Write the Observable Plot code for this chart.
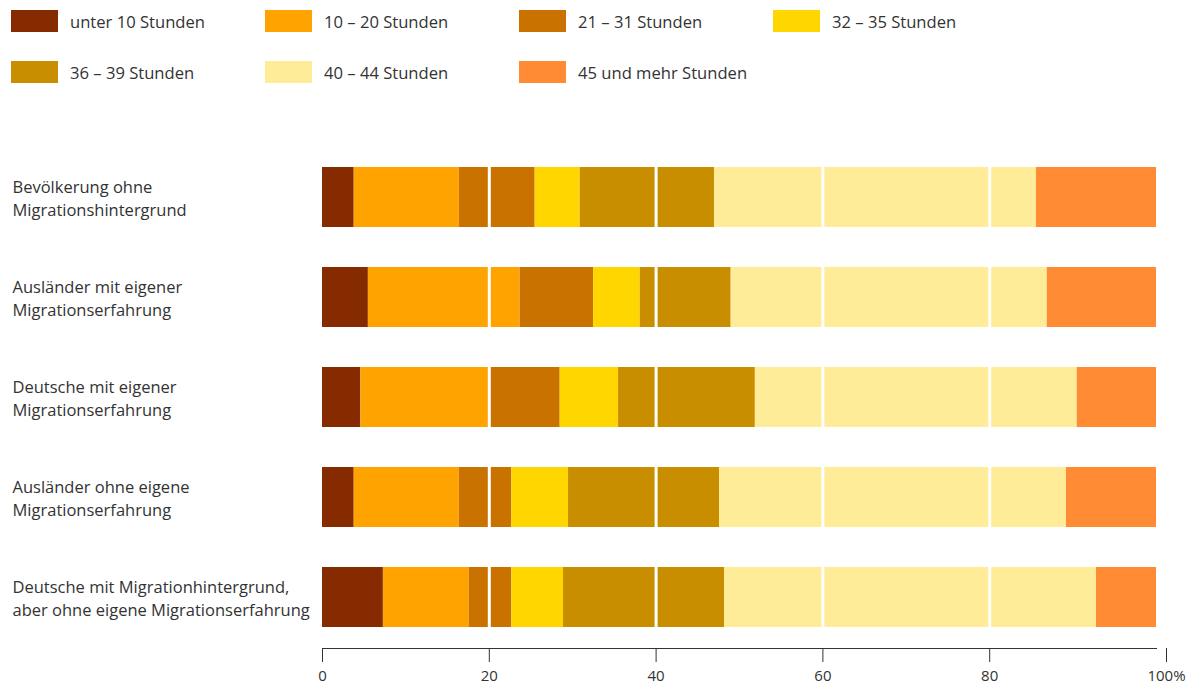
<!DOCTYPE html>
<html>
<head>
<meta charset="utf-8">
<script src="https://cdn.jsdelivr.net/npm/d3@7"></script>
<script src="https://cdn.jsdelivr.net/npm/@observablehq/plot@0.6"></script>
<style>
  html, body { margin: 0; padding: 0; background: #fff; }
  body { width: 1198px; height: 688px; overflow: hidden; font-family: "Open Sans", sans-serif; color: #333; }
  #legend { position: relative; height: 130px; }
  .item { position: absolute; display: flex; align-items: center; height: 22px; }
  .sw { width: 47px; height: 22px; margin-right: 12px; }
  .lb { font-size: 16.6px; white-space: nowrap; }
  #chart svg { display: block; }
</style>
</head>
<body>
<div id="legend"></div>
<div id="chart"></div>
<script>
const groups = [
  "Bevölkerung ohne\nMigrationshintergrund",
  "Ausländer mit eigener\nMigrationserfahrung",
  "Deutsche mit eigener\nMigrationserfahrung",
  "Ausländer ohne eigene\nMigrationserfahrung",
  "Deutsche mit Migrationhintergrund,\naber ohne eigene Migrationserfahrung"
];
const classes = [
  "unter 10 Stunden",
  "10 – 20 Stunden",
  "21 – 31 Stunden",
  "32 – 35 Stunden",
  "36 – 39 Stunden",
  "40 – 44 Stunden",
  "45 und mehr Stunden"
];
const colors = ["#862a00", "#ffa300", "#c97200", "#ffd600", "#c98d00", "#ffec99", "#ff8c34"];

// shares (%) per group, in class order
const under10   = [3.8, 5.5, 4.6, 3.8, 7.3];
const h10to20   = [12.6, 18.2, 15.3, 12.6, 10.3];
const h21to31   = [9.1, 8.8, 8.6, 6.3, 5.1];
const h32to35   = [5.4, 5.6, 7.0, 6.8, 6.2];
const h36to39   = [16.1, 10.9, 16.4, 18.1, 19.3];
const h40to44   = [38.6, 37.9, 38.6, 41.6, 44.6];
const h45plus   = [14.4, 13.1, 9.5, 10.8, 7.2];
const series = [under10, h10to20, h21to31, h32to35, h36to39, h40to44, h45plus];

const xTicks = [0, 20, 40, 60, 80];
const gridLines = [20, 40, 60, 80];

const data = [];
classes.forEach((c, i) => {
  groups.forEach((g, j) => data.push({group: g, cls: c, value: series[i][j]}));
});

// legend
const legend = document.getElementById("legend");
classes.forEach((c, i) => {
  const col = i % 4, row = Math.floor(i / 4);
  const it = document.createElement("div");
  it.className = "item";
  it.style.left = (11 + col * 254) + "px";
  it.style.top = (10 + row * 51) + "px";
  it.innerHTML = `<div class="sw" style="background:${colors[i]}"></div><div class="lb">${c}</div>`;
  legend.appendChild(it);
});

const chart = Plot.plot({
  width: 1198,
  height: 558,
  marginLeft: 322,
  marginRight: 42,
  marginTop: 16,
  marginBottom: 40,
  style: {fontFamily: "Open Sans", fontSize: "15px", color: "#333", background: "#fff"},
  x: {domain: [0, 100], axis: null, label: null},
  y: {domain: groups, paddingInner: 0.4, paddingOuter: 0.21, axis: null},
  color: {domain: classes, range: colors},
  marks: [
    Plot.barX(data, {y: "group", x: "value", fill: "cls", order: classes}),
    Plot.ruleX(gridLines, {stroke: "#fff", strokeWidth: 3}),
    Plot.text(groups, {y: d => d, text: d => d, frameAnchor: "left", textAnchor: "start", dx: -310, lineHeight: 1.4, fontSize: 16.5, fill: "#333"}),
    Plot.axisX(xTicks, {anchor: "bottom", label: null, tickSize: 14, tickPadding: 8, fontSize: 15, stroke: "#333", color: "#333", tickFormat: d => String(d)}),
    Plot.axisX([100], {anchor: "bottom", label: null, tickSize: 14, tickPadding: 8, fontSize: 15, stroke: "#333", color: "#333", tickFormat: () => "100%", dx: 10}),
    Plot.frame({anchor: "bottom", stroke: "#333"})
  ]
});
document.getElementById("chart").appendChild(chart);
</script>
</body>
</html>
